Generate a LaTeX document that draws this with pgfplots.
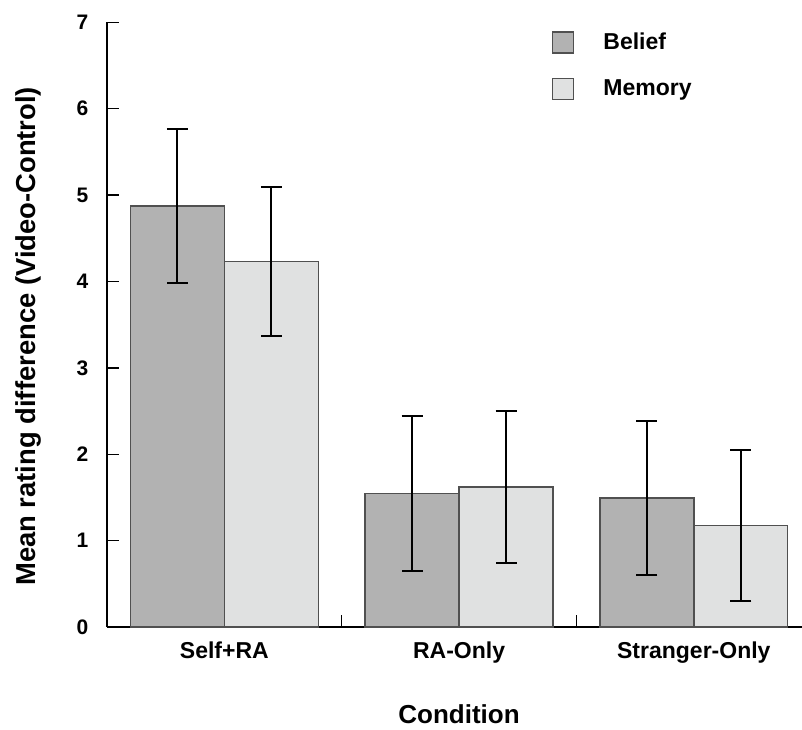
\documentclass[border=0pt]{standalone}
\usepackage{pgfplots}
\pgfplotsset{compat=1.18}
\usepackage{fontspec}
\setmainfont{Liberation Sans}
\definecolor{beliefc}{HTML}{B2B2B2}
\definecolor{memoryc}{HTML}{E0E1E1}
\definecolor{edgec}{HTML}{505050}
\begin{document}
\begin{tikzpicture}
\begin{axis}[
  name=ax,
  scale only axis,
  width=347.5pt, height=302.35pt,
  xmin=-0.5, xmax=2.461,
  ymin=0, ymax=7,
  ybar,
  axis x line*=bottom,
  axis y line*=left,
  axis line style={line width=1pt, black},
  tick align=inside,
  major tick length=6pt,
  tick style={black, line width=0.7pt},
  ytick={0,1,2,3,4,5,6,7},
  xtick={0.5,1.5},
  xticklabels={},
  extra x ticks={0,1,2},
  extra x tick labels={Self+RA,RA-Only,Stranger-Only},
  extra x tick style={major tick length=0pt},
  /pgf/number format/assume math mode=true,
  yticklabel style={font=\fontsize{10.5}{12}\selectfont\bfseries, xshift=-5.8pt},
  xticklabel style={font=\fontsize{11.5}{13}\selectfont\bfseries, yshift=-4pt},
  xlabel={Condition},
  ylabel={Mean rating difference (Video-Control)},
  xlabel style={font=\fontsize{13}{15}\selectfont\bfseries, at={(axis description cs:0.5065,-0.1593)}, anchor=base},
  ylabel style={font=\fontsize{13.7}{15}\selectfont\bfseries, at={(axis description cs:-0.1029,0.4807)}, anchor=base},
  legend cell align=left,
  legend style={draw=none, fill=none, at={(axis cs:1.396,6.895)}, anchor=north west,
    inner sep=0pt, outer sep=0pt, row sep=12pt, column sep=14.5pt,
    font=\fontsize{11.5}{13}\selectfont\bfseries,
    nodes={inner sep=0pt}},
  legend image code/.code={\draw[#1, draw=edgec, line width=0.7pt] (0pt,-5.25pt) rectangle (10.5pt,5.25pt);},
]
\addplot[fill=beliefc, draw=edgec, line width=0.7pt, bar width=0.4, bar shift=-0.2,
  error bars/.cd, y dir=both, y explicit,
  error bar style={line width=1pt, black},
  error mark options={rotate=90, black, mark size=5.25pt, line width=1pt}]
  coordinates {(0,4.875) +- (0,0.895) (1,1.544) +- (0,0.896) (2,1.493) +- (0,0.892)};
\addlegendentry{Belief}
\addplot[fill=memoryc, draw=edgec, line width=0.7pt, bar width=0.4, bar shift=0.2,
  error bars/.cd, y dir=both, y explicit,
  error bar style={line width=1pt, black},
  error mark options={rotate=90, black, mark size=5.25pt, line width=1pt}]
  coordinates {(0,4.23) +- (0,0.865) (1,1.62) +- (0,0.875) (2,1.173) +- (0,0.872)};
\addlegendentry{Memory}
\end{axis}
\pgfresetboundingbox
\path[use as bounding box] (ax.south west) ++(-53.5pt,-51pt) rectangle ++(401pt,364.5pt);
\end{tikzpicture}
\end{document}
